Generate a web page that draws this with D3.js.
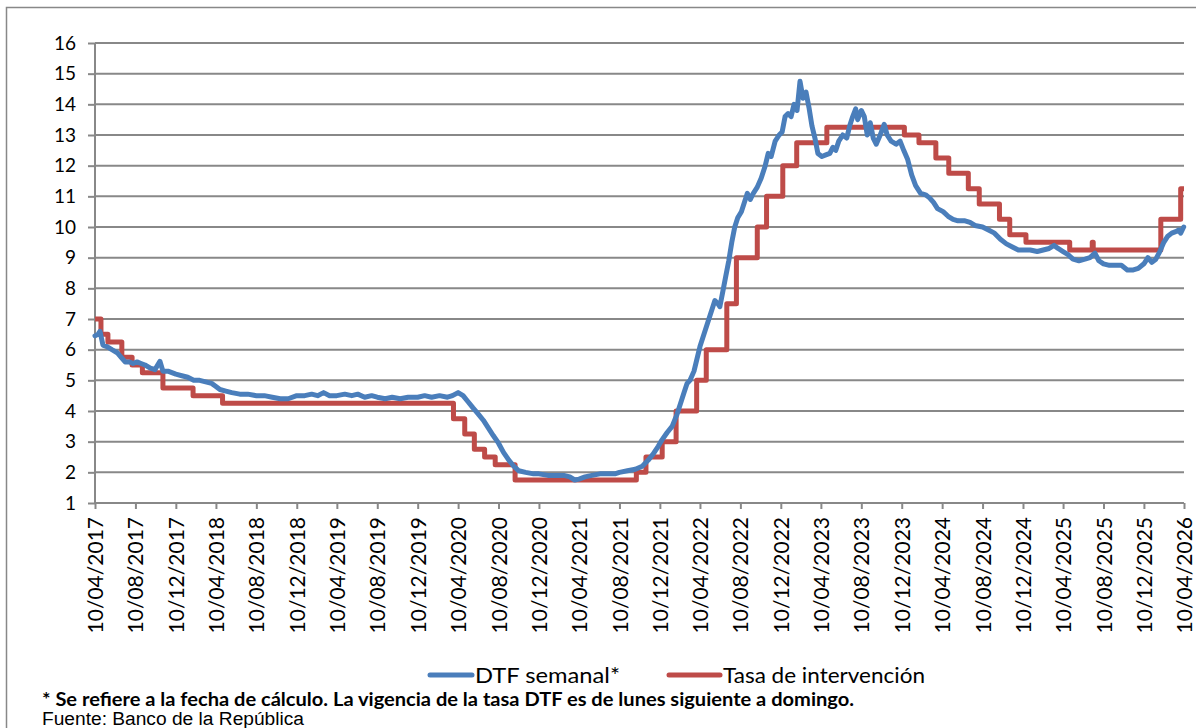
<!DOCTYPE html>
<html lang="es">
<head>
<meta charset="utf-8">
<title>DTF y tasa de intervención</title>
<script src="https://cdn.jsdelivr.net/npm/d3@7/dist/d3.min.js"></script>
<style>
  body { margin: 0; background: #fff; }
  svg { display: block; font-family: Lato, "Noto Sans", sans-serif; }
</style>
</head>
<body>
<script>
// DTF semanal (fecha de cálculo, valor %)
var dtfDates = [
  "2017-04-10","2017-04-19","2017-04-25","2017-05-04","2017-05-16","2017-05-31","2017-06-16","2017-06-28",
  "2017-07-10","2017-07-22","2017-08-03","2017-08-15","2017-08-27","2017-09-08","2017-09-24","2017-10-08",
  "2017-10-23","2017-11-01","2017-11-16","2017-11-28","2017-12-10","2017-12-28","2018-01-15","2018-02-02",
  "2018-02-20","2018-03-10","2018-03-28","2018-04-10","2018-04-22","2018-05-10","2018-05-28","2018-06-21",
  "2018-07-15","2018-08-10","2018-09-03","2018-09-27","2018-10-21","2018-11-14","2018-12-10","2019-01-03",
  "2019-01-24","2019-02-11","2019-03-01","2019-03-19","2019-04-10","2019-05-04","2019-05-25","2019-06-12",
  "2019-07-03","2019-07-24","2019-08-10","2019-09-03","2019-09-24","2019-10-18","2019-11-11","2019-12-10",
  "2019-12-31","2020-01-21","2020-02-14","2020-03-09","2020-03-24","2020-04-10","2020-04-25","2020-05-10",
  "2020-05-25","2020-06-10","2020-06-25","2020-07-10","2020-07-25","2020-08-10","2020-08-25","2020-09-10",
  "2020-09-25","2020-10-10","2020-10-31","2020-11-24","2020-12-10","2021-01-06","2021-01-30","2021-02-23",
  "2021-03-13","2021-03-28","2021-04-10","2021-04-28","2021-05-19","2021-06-12","2021-07-06","2021-07-27",
  "2021-08-10","2021-09-03","2021-09-27","2021-10-18","2021-11-05","2021-11-20","2021-12-05","2021-12-16",
  "2022-01-01","2022-01-16","2022-01-31","2022-02-12","2022-02-21","2022-03-02","2022-03-11","2022-03-23",
  "2022-04-01","2022-04-10","2022-04-22","2022-05-04","2022-05-16","2022-05-25","2022-06-03","2022-06-09",
  "2022-06-18","2022-06-27","2022-07-06","2022-07-15","2022-07-24","2022-08-02","2022-08-13","2022-08-22",
  "2022-08-31","2022-09-09","2022-09-18","2022-09-30","2022-10-12","2022-10-24","2022-11-02","2022-11-11",
  "2022-11-23","2022-12-05","2022-12-14","2022-12-23","2023-01-01","2023-01-10","2023-01-19","2023-01-28",
  "2023-02-06","2023-02-15","2023-02-24","2023-03-05","2023-03-14","2023-03-23","2023-04-01","2023-04-13",
  "2023-04-25","2023-05-07","2023-05-16","2023-05-25","2023-06-03","2023-06-15","2023-06-27","2023-07-06",
  "2023-07-15","2023-07-24","2023-07-30","2023-08-10","2023-08-19","2023-08-28","2023-09-06","2023-09-15",
  "2023-09-24","2023-10-06","2023-10-18","2023-10-27","2023-11-08","2023-11-23","2023-12-05","2023-12-16",
  "2023-12-28","2024-01-09","2024-01-21","2024-02-05","2024-02-20","2024-03-03","2024-03-15","2024-03-27",
  "2024-04-13","2024-04-28","2024-05-13","2024-05-28","2024-06-18","2024-07-03","2024-07-18","2024-08-10",
  "2024-08-28","2024-09-15","2024-10-03","2024-10-21","2024-11-08","2024-11-26","2024-12-10","2025-01-01",
  "2025-01-22","2025-02-09","2025-02-27","2025-03-14","2025-03-26","2025-04-10","2025-04-25","2025-05-10",
  "2025-05-28","2025-06-15","2025-06-30","2025-07-15","2025-07-27","2025-08-10","2025-08-28","2025-09-15",
  "2025-10-03","2025-10-21","2025-11-08","2025-11-23","2025-12-10","2025-12-22","2026-01-03","2026-01-15",
  "2026-01-27","2026-02-08","2026-02-20","2026-03-04","2026-03-16","2026-03-25","2026-03-31","2026-04-09"
];
var dtfValues = [
  6.45,6.5,6.6,6.15,6.1,6.0,5.9,5.75,
  5.6,5.6,5.55,5.6,5.55,5.5,5.4,5.35,
  5.62,5.3,5.3,5.25,5.2,5.15,5.1,5.0,
  5.0,4.95,4.9,4.8,4.7,4.65,4.6,4.55,
  4.55,4.5,4.5,4.45,4.4,4.4,4.5,4.5,
  4.55,4.5,4.6,4.5,4.5,4.55,4.5,4.55,
  4.45,4.5,4.45,4.4,4.45,4.4,4.45,4.45,
  4.5,4.45,4.5,4.45,4.5,4.6,4.5,4.3,
  4.1,3.9,3.7,3.45,3.2,2.95,2.65,2.4,
  2.2,2.05,2.0,1.95,1.95,1.9,1.9,1.9,
  1.85,1.75,1.78,1.85,1.9,1.95,1.95,1.95,
  2.0,2.05,2.1,2.2,2.4,2.6,2.85,3.05,
  3.3,3.5,3.9,4.3,4.6,4.9,5.0,5.3,
  5.7,6.1,6.5,6.9,7.3,7.6,7.5,7.4,
  7.9,8.4,8.9,9.5,10.0,10.3,10.5,10.8,
  11.1,10.9,11.1,11.3,11.6,12.0,12.4,12.3,
  12.8,13.0,13.1,13.6,13.7,13.6,14.0,13.8,
  14.75,14.2,14.4,13.9,13.3,12.9,12.4,12.3,
  12.35,12.4,12.6,12.5,12.8,13.0,12.9,13.3,
  13.6,13.85,13.5,13.8,13.6,13.0,13.4,12.9,
  12.7,13.0,13.35,13.0,12.8,12.7,12.8,12.5,
  12.2,11.7,11.35,11.1,11.05,10.95,10.8,10.6,
  10.5,10.35,10.25,10.2,10.2,10.15,10.05,10.0,
  9.9,9.8,9.6,9.45,9.35,9.25,9.25,9.25,
  9.2,9.25,9.3,9.4,9.3,9.2,9.1,8.95,
  8.9,8.95,9.0,9.15,8.9,8.8,8.75,8.75,
  8.75,8.6,8.6,8.65,8.8,9.0,8.85,8.95,
  9.2,9.5,9.7,9.8,9.85,9.9,9.8,10.0
];

// Tasa de intervención (fecha de cambio, valor %)
var tasaDates = [
  "2017-04-10","2017-04-28","2017-05-19","2017-06-30","2017-07-31","2017-08-31","2017-11-01","2018-01-31",
  "2018-04-30","2020-03-27","2020-04-30","2020-05-29","2020-06-29","2020-07-31","2020-09-29","2021-09-30",
  "2021-10-29","2021-12-17","2022-01-28","2022-03-31","2022-04-29","2022-06-30","2022-07-29","2022-09-30",
  "2022-10-28","2022-12-16","2023-01-27","2023-04-28","2023-12-18","2024-01-31","2024-03-22","2024-04-30",
  "2024-06-28","2024-07-31","2024-09-30","2024-10-31","2024-12-19","2025-04-30","2025-07-07","2025-07-10",
  "2026-01-30","2026-03-31","2026-04-10"
];
var tasaValues = [
  7.0,6.5,6.25,5.75,5.5,5.25,4.75,4.5,
  4.25,3.75,3.25,2.75,2.5,2.25,1.75,2.0,
  2.5,3.0,4.0,5.0,6.0,7.5,9.0,10.0,
  11.0,12.0,12.75,13.25,13.0,12.75,12.25,11.75,
  11.25,10.75,10.25,9.75,9.5,9.25,9.5,9.25,
  10.25,11.25,11.25
];

var tickLabels = [
  "10/04/2017","10/08/2017","10/12/2017","10/04/2018","10/08/2018","10/12/2018","10/04/2019",
  "10/08/2019","10/12/2019","10/04/2020","10/08/2020","10/12/2020","10/04/2021","10/08/2021",
  "10/12/2021","10/04/2022","10/08/2022","10/12/2022","10/04/2023","10/08/2023","10/12/2023",
  "10/04/2024","10/08/2024","10/12/2024","10/04/2025","10/08/2025","10/12/2025","10/04/2026"
];
var yTicks = [1,2,3,4,5,6,7,8,9,10,11,12,13,14,15,16];
var seriesNames = ["DTF semanal*", "Tasa de intervención"];

var width = 1196, height = 728;
var plotLeft = 95, plotRight = 1184, plotTop = 43, plotBottom = 503;
var blue = "#4a7ebb", red = "#be4b48", grid = "#888888";

var parseIso = d3.timeParse("%Y-%m-%d");
var parseTick = d3.timeParse("%d/%m/%Y");
var fmtTick = d3.timeFormat("%d/%m/%Y");

var dtf = dtfDates.map(function(d, i) { return {date: parseIso(d), value: dtfValues[i]}; });
var tasa = tasaDates.map(function(d, i) { return {date: parseIso(d), value: tasaValues[i]}; });
var tickDates = tickLabels.map(parseTick);

var x = d3.scaleTime()
    .domain([tickDates[0], tickDates[tickDates.length - 1]])
    .range([plotLeft, plotRight]);
var y = d3.scaleLinear().domain([1, 16]).range([plotBottom, plotTop]);

var svg = d3.select("body").append("svg")
    .attr("width", width)
    .attr("height", height);

// marco
svg.append("rect")
    .attr("x", 6.5).attr("y", 7.5)
    .attr("width", 1300).attr("height", 900)
    .attr("fill", "none").attr("stroke", grid).attr("stroke-width", 1.5);

// líneas de cuadrícula
svg.append("g")
  .selectAll("line")
  .data(yTicks.slice(1))
  .enter().append("line")
    .attr("x1", plotLeft).attr("x2", plotRight)
    .attr("y1", function(d) { return y(d); })
    .attr("y2", function(d) { return y(d); })
    .attr("stroke", grid).attr("stroke-width", 2);

// eje y
var yAxis = svg.append("g")
    .attr("transform", "translate(" + plotLeft + ",0)")
    .call(d3.axisLeft(y).tickValues(yTicks).tickSize(7).tickPadding(12).tickFormat(d3.format("d")));
yAxis.selectAll("line, path").attr("stroke", grid).attr("stroke-width", 2);
yAxis.select(".domain").attr("d", "M0," + plotTop + "V" + plotBottom);
yAxis.selectAll("text").attr("font-size", 19).attr("fill", "#000").attr("font-family", "Lato");

// eje x
var xAxis = svg.append("g")
    .attr("transform", "translate(0," + plotBottom + ")")
    .call(d3.axisBottom(x).tickValues(tickDates).tickSize(6).tickFormat(fmtTick));
xAxis.selectAll("line, path").attr("stroke", grid).attr("stroke-width", 2);
xAxis.select(".domain").attr("d", "M" + plotLeft + ",0H" + plotRight);
xAxis.selectAll("text")
    .attr("font-size", 21)
    .attr("fill", "#000")
    .attr("font-family", "Lato")
    .attr("text-anchor", "end")
    .attr("transform", "translate(0,14) rotate(-90)")
    .attr("x", 0).attr("y", 0).attr("dy", "0.36em");

// series
svg.append("path")
    .datum(tasa)
    .attr("fill", "none").attr("stroke", red).attr("stroke-width", 5)
    .attr("stroke-linejoin", "round")
    .attr("d", d3.line().curve(d3.curveStepAfter)
        .x(function(d) { return x(d.date); })
        .y(function(d) { return y(d.value); }));

svg.append("path")
    .datum(dtf)
    .attr("fill", "none").attr("stroke", blue).attr("stroke-width", 5)
    .attr("stroke-linejoin", "round").attr("stroke-linecap", "round")
    .attr("d", d3.line()
        .x(function(d) { return x(d.date); })
        .y(function(d) { return y(d.value); }));

// leyenda
var legend = svg.append("g").attr("transform", "translate(0,675)");
[[430, 472, blue, 475, 145], [669, 720, red, 723, 202]].forEach(function(l, i) {
  legend.append("line")
      .attr("x1", l[0]).attr("x2", l[1])
      .attr("stroke", l[2]).attr("stroke-width", 5).attr("stroke-linecap", "round");
  legend.append("text")
      .attr("x", l[3]).attr("dy", "0.35em")
      .attr("font-size", 22).attr("font-family", "Lato")
      .attr("textLength", l[4]).attr("lengthAdjust", "spacingAndGlyphs")
      .text(seriesNames[i]);
});

// notas
svg.append("text")
    .attr("x", 42).attr("y", 706)
    .attr("font-size", 19).attr("font-weight", "bold").attr("font-family", "Lato")
    .attr("textLength", 812).attr("lengthAdjust", "spacingAndGlyphs")
    .text("* Se refiere a la fecha de cálculo. La vigencia de la tasa DTF es de lunes siguiente a domingo.");
svg.append("text")
    .attr("x", 42).attr("y", 725)
    .attr("font-size", 18).attr("font-family", "Liberation Sans, Arial, sans-serif")
    .attr("textLength", 262).attr("lengthAdjust", "spacingAndGlyphs")
    .text("Fuente: Banco de la República");
</script>
</body>
</html>
